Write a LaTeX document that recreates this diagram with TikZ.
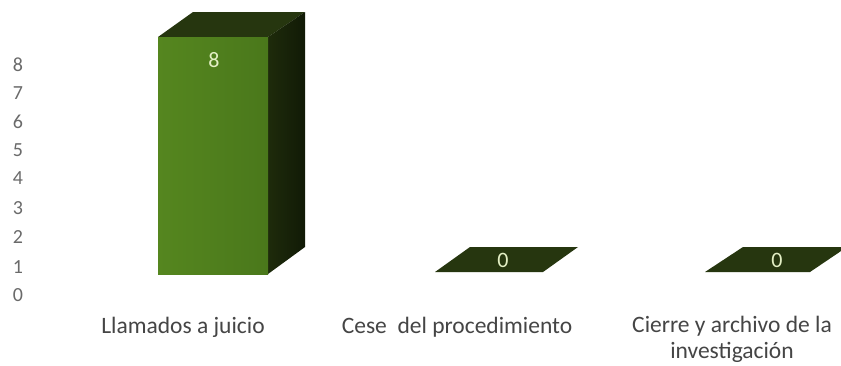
\documentclass[tikz,border=0pt]{standalone}
\usepackage{fontspec}
\setmainfont{Carlito}
\definecolor{axisgray}{HTML}{6A6A6A}
\definecolor{catgray}{HTML}{454545}
\definecolor{frontgreen}{HTML}{4A781B}
\definecolor{frontlight}{HTML}{55861F}
\definecolor{topdark}{HTML}{26360F}
\definecolor{sidedark}{HTML}{1E2B0B}
\definecolor{sideblack}{HTML}{111A06}
\definecolor{vallabel}{HTML}{E3EFC4}
\begin{document}
\begin{tikzpicture}[x=1pt,y=-1pt,
  tick/.style={font=\fontsize{20}{22}\selectfont, text=axisgray, anchor=center},
  cat/.style={font=\fontsize{23.5}{25.5}\selectfont, text=catgray, align=center, anchor=base},
  val/.style={font=\fontsize{22}{24}\selectfont, text=vallabel, anchor=center}]
\useasboundingbox (0,0) rectangle (841,365);
\fill[white] (0,0) rectangle (841,365);
\begin{scope}
\clip (0,0) rectangle (841,365);
% bar 1
\fill[topdark] (158,37) -- (193,12) -- (305,12) -- (268,37) -- cycle;
\shade[left color=sidedark, right color=sideblack] (268,37) -- (305,12) -- (305,247) -- (268,274) -- cycle;
\shade[left color=frontlight, right color=frontgreen] (158,37) rectangle (268,274);
% bar 2 (flat)
\fill[topdark] (435,272) -- (543,272) -- (578,247) -- (470,247) -- cycle;
% bar 3 (flat)
\fill[topdark] (705,272) -- (810,272) -- (847,247) -- (743,247) -- cycle;
\end{scope}
% value labels
\node[val] (v1) at (214,60) {8};
\node[val] (v2) at (503,260) {0};
\node[val] (v3) at (777,260) {0};
% axis ticks
\node[tick] (t8) at (18,65) {8};
\node[tick] (t7) at (18,93) {7};
\node[tick] (t6) at (18,122) {6};
\node[tick] (t5) at (18,150) {5};
\node[tick] (t4) at (18,178) {4};
\node[tick] (t3) at (18,208) {3};
\node[tick] (t2) at (18,237) {2};
\node[tick] (t1) at (18,267) {1};
\node[tick] (t0) at (18,295) {0};
% categories
\node[cat] (c1) at (183,333) {Llamados a juicio};
\node[cat] (c2) at (457,333) {Cese\ \ del procedimiento};
\node[cat] (c3) at (732,358) {Cierre y archivo de la\\investigación};
\end{tikzpicture}
\end{document}
